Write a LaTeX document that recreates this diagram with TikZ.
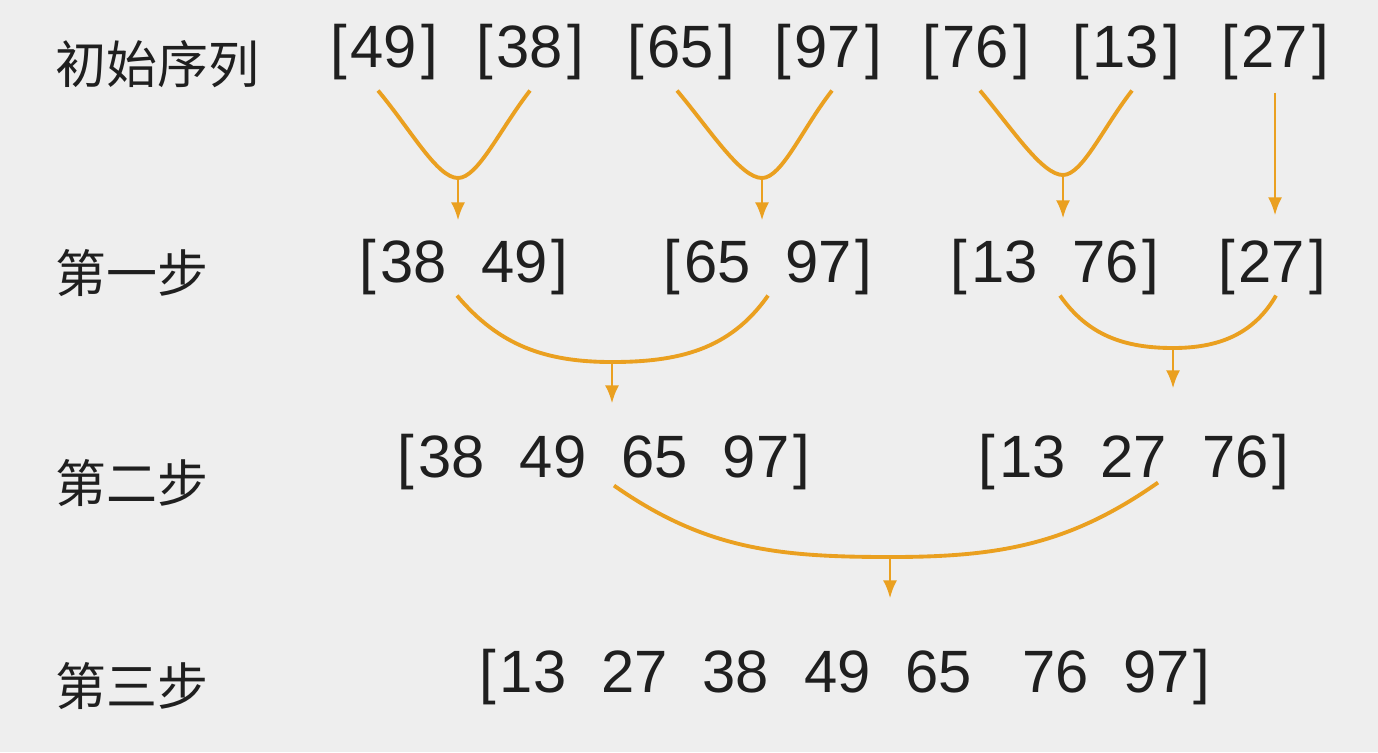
\documentclass[tikz,border=0pt]{standalone}
\usepackage{fontspec}
\setmainfont{Liberation Sans}
\newfontfamily\cjk{Noto Sans CJK SC}
\usetikzlibrary{arrows.meta, positioning, calc}
\definecolor{mergeorange}{RGB}{234,160,32}
\definecolor{bggray}{RGB}{238,238,238}
\newcommand{\numgap}{\hspace{0.35cm}}
\newcommand{\openb}{[\hspace{0.04cm}}
\newcommand{\closeb}{\hspace{0.04cm}]}

\begin{document}
\begin{tikzpicture}[
    seq/.style={inner sep=0pt, text=black!88, font=\fontsize{17}{20}\selectfont},
    steplabel/.style={anchor=west, inner sep=0pt, text=black!88, font=\cjk\fontsize{14.5}{17}\selectfont},
    merge/.style={draw=mergeorange, line width=1.1pt},
    vleft/.style={out=-50, in=180, out looseness=1.1, in looseness=0.45},
    vright/.style={out=0, in=-128, out looseness=0.45, in looseness=1.1},
    arrow/.style={mergeorange, line width=0.8pt, -{Latex[length=1.8mm,width=1.4mm]}}
]
    \fill[bggray] (0,0) rectangle (13.78,7.52);
    \useasboundingbox (0,0) rectangle (13.78,7.52);

    % 行标题
    \node[steplabel] (l0) at (0.55,6.88) {初始序列};
    \node[steplabel] (l1) at (0.55,4.79) {第一步};
    \node[steplabel] (l2) at (0.55,2.69) {第二步};
    \node[steplabel] (l3) at (0.55,0.66) {第三步};

    % 初始序列
    \node[seq] (n49) at (3.84,7.00) {\openb 49\closeb};
    \node[seq] (n38) at (5.30,7.00) {\openb 38\closeb};
    \node[seq] (n65) at (6.81,7.00) {\openb 65\closeb};
    \node[seq] (n97) at (8.28,7.00) {\openb 97\closeb};
    \node[seq] (n76) at (9.76,7.00) {\openb 76\closeb};
    \node[seq] (n13) at (11.26,7.00) {\openb 13\closeb};
    \node[seq] (n27) at (12.75,7.00) {\openb 27\closeb};

    % 第一步
    \node[seq] (s1a) at (4.64,4.85) {\openb 38\numgap 49\closeb};
    \node[seq] (s1b) at (7.68,4.85) {\openb 65\numgap 97\closeb};
    \node[seq] (s1c) at (10.55,4.85) {\openb 13\numgap 76\closeb};
    \node[seq] (s1d) at (12.72,4.85) {\openb 27\closeb};

    % 第二步
    \node[seq] (s2a) at (6.04,2.90) {\openb 38\numgap 49\numgap 65\numgap 97\closeb};
    \node[seq] (s2b) at (11.34,2.90) {\openb 13\numgap 27\numgap 76\closeb};

    % 第三步
    \node[seq] (s3) at (8.45,0.75) {\openb 13\numgap 27\numgap 38\numgap 49\numgap 65\numgap\hspace{0.15cm}76\numgap 97\closeb};

    \coordinate (j1) at (4.58,5.74);
    \coordinate (j2) at (7.62,5.74);
    \coordinate (j3) at (10.63,5.77);
    \coordinate (j4) at (6.12,3.90);
    \coordinate (j5) at (11.73,4.04);
    \coordinate (j6) at (8.90,1.95);

    \draw[merge] ([xshift=-0.6mm,yshift=-1mm]n49.south) to[vleft] (j1) to[vright] ([yshift=-1mm]n38.south);
    \draw[merge] ([xshift=-0.4mm,yshift=-1mm]n65.south) to[vleft] (j2) to[vright] ([xshift=0.4mm,yshift=-1mm]n97.south);
    \draw[merge] ([xshift=0.4mm,yshift=-1mm]n76.south) to[vleft] (j3) to[vright] ([xshift=0.6mm,yshift=-1mm]n13.south);
    \draw[arrow, shorten >=2.3mm] ([yshift=-1.2mm]n27.south) -- (n27.south |- s1d.north);

    \draw[arrow, shorten >=1.8mm] (j1) -- (j1 |- s1a.north);
    \draw[arrow, shorten >=1.8mm] (j2) -- (j2 |- s1b.north);
    \draw[arrow, shorten >=2mm] (j3) -- (j3 |- s1c.north);

    \draw[merge] ([xshift=-0.7mm]s1a.south) to[out=-50,in=180] (j4) to[out=0,in=-125] (s1b.south);
    \draw[merge] ([xshift=0.5mm]s1c.south) to[out=-55,in=180] (j5) to[out=0,in=-120] ([xshift=0.4mm]s1d.south);

    \draw[arrow, shorten >=3mm] (j4) -- (j4 |- s2a.north);
    \draw[arrow, shorten >=4.5mm] (j5) -- (j5 |- s2b.north);

    \draw[merge] ([xshift=1mm,yshift=0.5mm]s2a.south) to[out=-35,in=180] (j6) to[out=0,in=-145] ([xshift=2.4mm,yshift=0.8mm]s2b.south);
    \draw[arrow, shorten >=5mm] (j6) -- (j6 |- s3.north);
\end{tikzpicture}
\end{document}
